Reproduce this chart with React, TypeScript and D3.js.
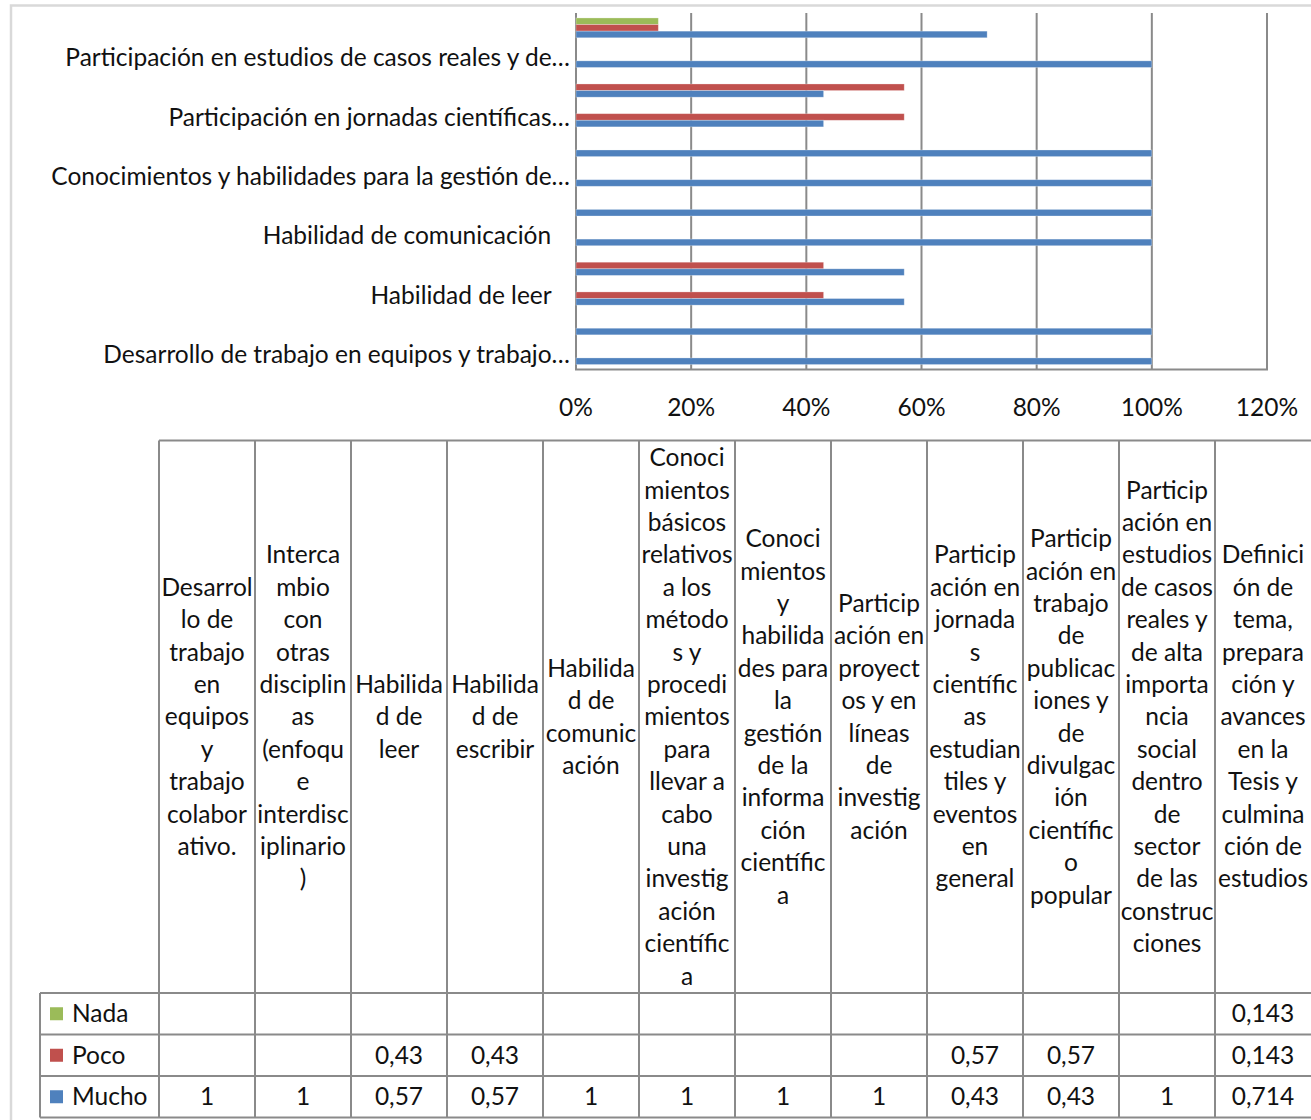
import React from "react";
import * as d3 from "d3";

// ---------- data ----------
const categories = [
  "Desarrollo de trabajo en equipos y trabajo colaborativo.",
  "Intercambio con otras disciplinas (enfoque interdisciplinario)",
  "Habilidad de leer",
  "Habilidad de escribir",
  "Habilidad de comunicación",
  "Conocimientos básicos relativos a los métodos y procedimientos para llevar a cabo una investigación científica",
  "Conocimientos y habilidades para la gestión de la información científica",
  "Participación en proyectos y en líneas de investigación",
  "Participación en jornadas científicas estudiantiles y eventos en general",
  "Participación en trabajo de publicaciones y de divulgación científico popular",
  "Participación en estudios de casos reales y de alta importancia social dentro de sector de las construcciones",
  "Definición de tema, preparación y avances en la Tesis y culminación de estudios",
];

// labels shown on the category axis (Excel skips every other one and truncates)
const axisLabels = [
  "Desarrollo de trabajo en equipos y trabajo…",
  "",
  "Habilidad de leer   ",
  "",
  "Habilidad de comunicación   ",
  "",
  "Conocimientos y habilidades para la gestión de…",
  "",
  "Participación en jornadas científicas…",
  "",
  "Participación en estudios de casos reales y de…",
  "",
];

// header text as wrapped in the data table
const headerLines = [
  ["Desarrol", "lo de", "trabajo", "en", "equipos", "y", "trabajo", "colabor", "ativo."],
  ["Interca", "mbio", "con", "otras", "disciplin", "as", "(enfoqu", "e", "interdisc", "iplinario", ")"],
  ["Habilida", "d de", "leer"],
  ["Habilida", "d de", "escribir"],
  ["Habilida", "d de", "comunic", "ación"],
  ["Conoci", "mientos", "básicos", "relativos", "a los", "método", "s y", "procedi", "mientos", "para", "llevar a", "cabo", "una", "investig", "ación", "científic", "a"],
  ["Conoci", "mientos", "y", "habilida", "des para", "la", "gestión", "de la", "informa", "ción", "científic", "a"],
  ["Particip", "ación en", "proyect", "os y en", "líneas", "de", "investig", "ación"],
  ["Particip", "ación en", "jornada", "s", "científic", "as", "estudian", "tiles y", "eventos", "en", "general"],
  ["Particip", "ación en", "trabajo", "de", "publicac", "iones y", "de", "divulgac", "ión", "científic", "o", "popular"],
  ["Particip", "ación en", "estudios", "de casos", "reales y", "de alta", "importa", "ncia", "social", "dentro", "de", "sector", "de las", "construc", "ciones"],
  ["Definici", "ón de", "tema,", "prepara", "ción y", "avances", "en la", "Tesis y", "culmina", "ción de", "estudios"],
];

const seriesNames = ["Nada", "Poco", "Mucho"];
const nada: (number | null)[] = [null, null, null, null, null, null, null, null, null, null, null, 0.143];
const poco: (number | null)[] = [null, null, 0.43, 0.43, null, null, null, null, 0.57, 0.57, null, 0.143];
const mucho: (number | null)[] = [1, 1, 0.57, 0.57, 1, 1, 1, 1, 0.43, 0.43, 1, 0.714];
const seriesColors = ["#9BBB59", "#C0504D", "#4F81BD"];
const xTicks = [0, 0.2, 0.4, 0.6, 0.8, 1.0, 1.2];

const seriesValues = [nada, poco, mucho];

// ---------- layout ----------
const W = 1311;
const H = 1120;
const FONT = "Lato, 'Open Sans', sans-serif";
const FS = 24.5;
const TEXT = "#111111";
const GRID = "#8a8a8a";

const plot = { left: 576, right: 1267, top: 13, bottom: 369.5 };
const table = { left: 159, right: 1311, labelLeft: 40, top: 440.5, headerBottom: 993, rowH: 41.5 };

export default function App() {
  const x = d3.scaleLinear().domain([0, 1.2]).range([plot.left, plot.right]);
  // category 1 at the bottom
  const y = d3
    .scaleBand<string>()
    .domain([...categories].reverse())
    .range([plot.top, plot.bottom])
    .paddingInner(0)
    .paddingOuter(0);
  const bw = y.bandwidth();
  // Excel gap width 150%: band = 3 bars + 1.5 bar
  const inner = d3
    .scaleBand<string>()
    .domain(seriesNames)
    .range([bw * (0.75 / 4.5), bw * (1 - 0.75 / 4.5)]);

  const col = d3.scaleBand<string>().domain(categories).range([table.left, table.right]);
  const cw = col.bandwidth();
  const lineH = 32.4;
  const headerMid = (table.top + table.headerBottom) / 2;
  const fmt = (v: number) => String(v).replace(".", ",");

  const rowTop = (i: number) => table.headerBottom + i * table.rowH;
  const tableBottom = rowTop(seriesNames.length);

  return (
    <svg
      width={W}
      height={H}
      style={{ position: "absolute", left: 0, top: 0, display: "block", background: "#fff" }}
      fontFamily={FONT}
    >
      <rect x={0} y={0} width={W} height={H} fill="#fff" />
      {/* chart area frame */}
      <rect x={11} y={5.5} width={W + 50} height={H + 50} fill="none" stroke="#d9d9d9" strokeWidth={2.5} />

      {/* gridlines */}
      {xTicks.map((t) => (
        <line key={"g" + t} x1={x(t)} x2={x(t)} y1={plot.top} y2={plot.bottom} stroke={GRID} strokeWidth={2} />
      ))}
      <line x1={plot.left - 1} x2={plot.right + 1} y1={plot.bottom} y2={plot.bottom} stroke={GRID} strokeWidth={2} />

      {/* bars */}
      {seriesNames.map((s, si) =>
        categories.map((c, ci) => {
          const v = seriesValues[si][ci];
          if (v == null) return null;
          const y0 = (y(c) as number) + (inner(s) as number);
          return (
            <rect
              key={s + ci}
              x={x(0)}
              y={y0}
              width={x(v) - x(0)}
              height={inner.bandwidth()}
              fill={seriesColors[si]}
              stroke="rgba(255,255,255,0.35)"
              strokeWidth={0.8}
            />
          );
        })
      )}

      {/* category labels */}
      {categories.map((c, ci) =>
        axisLabels[ci] ? (
          <text
            key={"yl" + ci}
            x={plot.left - 6}
            y={(y(c) as number) + bw / 2}
            dy="0.35em"
            textAnchor="end"
            fontSize={FS}
            fill={TEXT}
            style={{ whiteSpace: "pre" }}
          >
            {axisLabels[ci]}
          </text>
        ) : null
      )}

      {/* value axis labels */}
      {xTicks.map((t) => (
        <text key={"xl" + t} x={x(t)} y={407} dy="0.35em" textAnchor="middle" fontSize={FS} fill={TEXT}>
          {d3.format(".0%")(t)}
        </text>
      ))}

      {/* data table: header */}
      {categories.map((c, ci) => {
        const lines = headerLines[ci];
        const n = lines.length;
        const cx = (col(c) as number) + cw / 2;
        return (
          <g key={"h" + ci}>
            {lines.map((ln, li) => (
              <text
                key={li}
                x={cx}
                y={headerMid + (li - (n - 1) / 2) * lineH}
                dy="0.35em"
                textAnchor="middle"
                fontSize={FS}
                fill={TEXT}
              >
                {ln}
              </text>
            ))}
          </g>
        );
      })}

      {/* table values */}
      {seriesNames.map((s, si) => (
        <g key={"r" + s}>
          <rect x={50} y={rowTop(si) + table.rowH / 2 - 6.5} width={13} height={13} fill={seriesColors[si]} />
          <text x={72} y={rowTop(si) + table.rowH / 2} dy="0.35em" fontSize={FS} fill={TEXT}>
            {s}
          </text>
          {categories.map((c, ci) => {
            const v = seriesValues[si][ci];
            if (v == null) return null;
            return (
              <text
                key={ci}
                x={(col(c) as number) + cw / 2}
                y={rowTop(si) + table.rowH / 2}
                dy="0.35em"
                textAnchor="middle"
                fontSize={FS}
                fill={TEXT}
              >
                {fmt(v)}
              </text>
            );
          })}
        </g>
      ))}

      {/* table grid */}
      <g stroke={GRID} strokeWidth={2}>
        <line x1={table.left} x2={table.right} y1={table.top} y2={table.top} />
        {d3.range(seriesNames.length + 1).map((i) => (
          <line key={"hl" + i} x1={table.labelLeft} x2={table.right} y1={rowTop(i)} y2={rowTop(i)} />
        ))}
        <line x1={table.labelLeft} x2={table.labelLeft} y1={table.headerBottom} y2={tableBottom} />
        {categories.map((c) => (
          <line key={"v" + c} x1={col(c) as number} x2={col(c) as number} y1={table.top} y2={tableBottom} />
        ))}
      </g>
    </svg>
  );
}
